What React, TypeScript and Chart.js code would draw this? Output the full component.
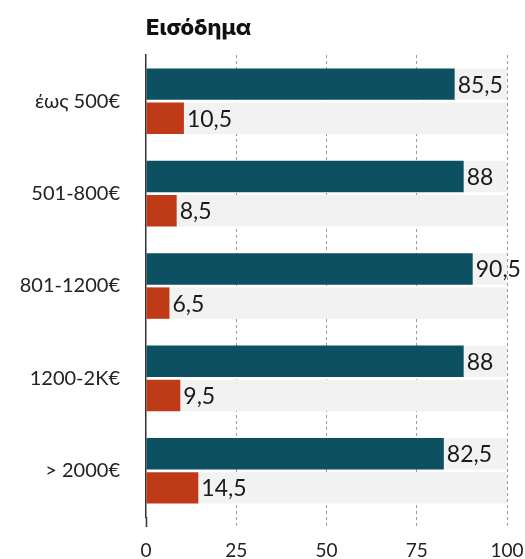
import React, { useEffect, useRef } from "react";
import { Chart, registerables } from "chart.js";
Chart.register(...registerables);

const title = "Εισόδημα";
const categories = ["έως 500€", "501-800€", "801-1200€", "1200-2K€", "> 2000€"];
const seriesA = [85.5, 88, 90.5, 88, 82.5];
const seriesB = [10.5, 8.5, 6.5, 9.5, 14.5];
const fullScale = [100, 100, 100, 100, 100];
const xTicks = [0, 25, 50, 75, 100];

const FONT = "Lato, 'Open Sans', sans-serif";
const TITLE_FONT = "Inter, 'DejaVu Sans', sans-serif";
const TEAL = "#0c5062";
const RED = "#bf3a17";
const GREY = "#f2f2f2";

const titlePlugin = {
  id: "titlePlugin",
  afterDraw(chart: any) {
    const ctx = chart.ctx;
    ctx.save();
    ctx.font = `800 22px ${TITLE_FONT}`;
    ctx.fillStyle = "#111";
    ctx.textAlign = "left";
    ctx.textBaseline = "alphabetic";
    ctx.fillText(title, chart.chartArea.left, 34.5);
    ctx.restore();
  },
};

const valueLabels = {
  id: "valueLabels",
  afterDatasetsDraw(chart: any) {
    const ctx = chart.ctx;
    ctx.save();
    ctx.font = `23px ${FONT}`;
    ctx.fillStyle = "#1a1a1a";
    ctx.textAlign = "left";
    ctx.textBaseline = "middle";
    [0, 1].forEach((di) => {
      const meta = chart.getDatasetMeta(di);
      meta.data.forEach((bar: any, i: number) => {
        const v = chart.data.datasets[di].data[i];
        ctx.fillText(String(v).replace(".", ","), bar.x + 3, bar.y + 1);
      });
    });
    ctx.restore();
  },
};

export default function App() {
  const ref = useRef<HTMLCanvasElement>(null);
  useEffect(() => {
    if (!ref.current) return;
    const common = { categoryPercentage: 0.74, barPercentage: 0.92, borderWidth: 0 };
    const chart = new Chart(ref.current, {
      type: "bar",
      data: {
        labels: categories,
        datasets: [
          { data: seriesA, backgroundColor: TEAL, stack: "a", ...common },
          { data: seriesB, backgroundColor: RED, stack: "b", ...common },
          { data: fullScale, backgroundColor: GREY, stack: "a", ...common },
          { data: fullScale, backgroundColor: GREY, stack: "b", ...common },
        ],
      },
      options: {
        indexAxis: "y",
        animation: false,
        responsive: true,
        maintainAspectRatio: false,
        layout: { padding: { top: 55, right: 18, left: 0, bottom: 0 } },
        plugins: { legend: { display: false }, tooltip: { enabled: false } },
        scales: {
          x: {
            type: "linear",
            min: 0,
            max: 100,
            afterBuildTicks: (s: any) => {
              s.ticks = xTicks.map((v) => ({ value: v }));
            },
            afterFit: (s: any) => {
              s.height = 42;
              s.paddingLeft = 0;
              s.paddingRight = 0;
            },
            ticks: { font: { family: FONT, size: 19 }, color: "#222", padding: 12 },
            grid: {
              color: (c: any) => (c.tick && c.tick.value === 0 ? "rgba(0,0,0,0)" : "#9a9a9a"),
              lineWidth: 1,
              drawTicks: true,
              tickLength: 10,
              tickColor: (c: any) => (c.tick && c.tick.value === 0 ? "#333" : "#9a9a9a"),
              tickWidth: (c: any) => (c.tick && c.tick.value === 0 ? 1.5 : 1),
              tickBorderDash: (c: any) => (c.tick && c.tick.value === 0 ? [] : [3, 3]),
            },
            border: { display: false, dash: [3, 3] },
          },
          y: {
            type: "category",
            offset: true,
            afterFit: (s: any) => {
              s.width = 146;
              s.paddingTop = 0;
              s.paddingBottom = 0;
            },
            ticks: { font: { family: FONT, size: 20 }, color: "#222", padding: 26 },
            grid: { display: false, drawTicks: false },
            border: { display: true, color: "#333", width: 1.5 },
          },
        },
      },
      plugins: [valueLabels, titlePlugin],
    } as any);
    return () => chart.destroy();
  }, []);
  return (
    <div style={{ position: "fixed", left: 0, top: 0, width: 525, height: 559, background: "#fff" }}>
      <canvas ref={ref} />
    </div>
  );
}
